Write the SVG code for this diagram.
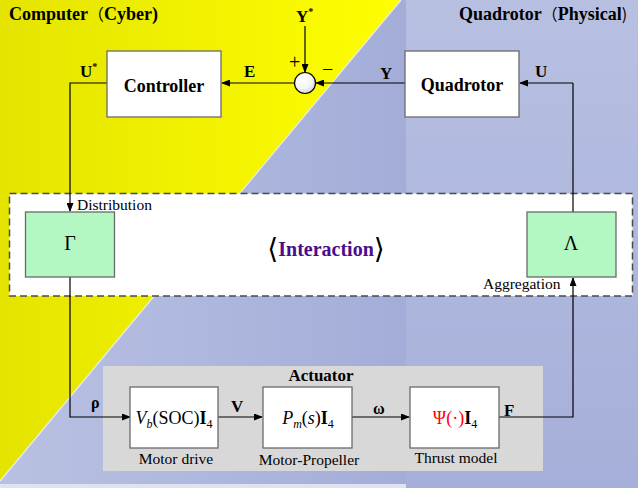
<svg xmlns="http://www.w3.org/2000/svg" width="638" height="488" viewBox="0 0 638 488" font-family="'Liberation Serif', 'Times New Roman', serif">
<defs>
  <linearGradient id="gBlueL" x1="0" y1="0" x2="1" y2="0">
    <stop offset="0" stop-color="#b9c1e2"/>
    <stop offset="1" stop-color="#a3add8"/>
  </linearGradient>
  <linearGradient id="gBlueR" x1="0" y1="0" x2="0" y2="1">
    <stop offset="0" stop-color="#b8c0e2"/>
    <stop offset="1" stop-color="#a5afd9"/>
  </linearGradient>
  <linearGradient id="gYel" x1="0" y1="0" x2="1" y2="0">
    <stop offset="0" stop-color="#e4e400"/>
    <stop offset="1" stop-color="#ffff00"/>
  </linearGradient>
  <radialGradient id="gSum" cx="0.4" cy="0.35" r="0.7">
    <stop offset="0" stop-color="#ffffff"/>
    <stop offset="0.6" stop-color="#f4f4f4"/>
    <stop offset="1" stop-color="#cfcfcf"/>
  </radialGradient>
  <marker id="arr" markerWidth="9" markerHeight="7" refX="8" refY="3.5" orient="auto" markerUnits="userSpaceOnUse">
    <path d="M0,0 L9,3.5 L0,7 z" fill="#000"/>
  </marker>
  <style>
    text{font-family:"Liberation Serif","Times New Roman",serif;fill:#000}
    .b{font-weight:bold}
    .blk{fill:#fff;stroke:#6a6a6a;stroke-width:1.3}
    .grn{fill:#b3f7c3;stroke:#6a6a6a;stroke-width:1.3}
    .ln{fill:none;stroke:#000;stroke-width:1.2}
    .lbl{font-size:15.5px}
    .cjk{font-family:"Noto Sans CJK SC",sans-serif;font-weight:normal}
    .br{font-family:"DejaVu Serif",serif;font-weight:normal}
  </style>
</defs>

<!-- background -->
<rect x="0" y="0" width="406" height="488" fill="url(#gBlueL)"/>
<rect x="406" y="0" width="232" height="488" fill="url(#gBlueR)"/>
<rect x="0" y="484" width="406" height="4" fill="#dfe3f1"/>
<polygon points="0,0 401,0 0,481" fill="url(#gYel)"/>
<line x1="401" y1="0" x2="0" y2="481" stroke="#e8ecf6" stroke-width="1.2"/>

<!-- titles -->
<text class="b" x="9" y="20" font-size="18">Computer<tspan class="cjk" font-size="16">（</tspan>Cyber)</text>
<text class="b" x="459" y="20" font-size="18">Quadrotor<tspan class="cjk" font-size="16">（</tspan>Physical<tspan class="cjk" font-size="16">)</tspan></text>

<!-- interaction region -->
<g id="interaction">
  <rect x="9.5" y="193.5" width="623" height="102.5" fill="#fff" stroke="#4a4a4a" stroke-width="1.5" stroke-dasharray="7 4"/>
  <text x="326" y="256" text-anchor="middle" font-size="20"><tspan class="br" font-size="28" dy="2">⟨</tspan><tspan class="b" fill="#4b0d8c" dy="-2">Interaction</tspan><tspan class="br" font-size="28" dy="2">⟩</tspan></text>
</g>

<!-- actuator region -->
<g id="actuator">
  <rect x="103" y="366" width="440" height="105" fill="#d8d8d8"/>
  <text class="b" x="321" y="381" font-size="17" text-anchor="middle">Actuator</text>
</g>

<!-- connectors -->
<g id="connectors">
  <line class="ln" x1="305" y1="26" x2="305" y2="72" marker-end="url(#arr)"/>
  <line class="ln" x1="405" y1="83" x2="316" y2="83" marker-end="url(#arr)"/>
  <line class="ln" x1="294.5" y1="83" x2="222" y2="83" marker-end="url(#arr)"/>
  <polyline class="ln" points="107,83 70,83 70,211" marker-end="url(#arr)"/>
  <line class="ln" x1="573" y1="212" x2="573" y2="83"/>
  <line class="ln" x1="573" y1="83" x2="520" y2="83" marker-end="url(#arr)"/>
  <polyline class="ln" points="70,277 70,417 130,417" marker-end="url(#arr)"/>
  <line class="ln" x1="218" y1="417" x2="262" y2="417" marker-end="url(#arr)"/>
  <line class="ln" x1="352" y1="417" x2="409" y2="417" marker-end="url(#arr)"/>
  <polyline class="ln" points="499,417 573,417 573,278" marker-end="url(#arr)"/>
  <text class="b" x="80" y="77" font-size="17">U<tspan font-size="10" dy="-7">*</tspan></text>
  <text class="b" x="244" y="77" font-size="17">E</text>
  <text class="b" x="380" y="79" font-size="17">Y</text>
  <text class="b" x="535" y="77" font-size="17">U</text>
  <text class="b" x="296" y="22" font-size="17">Y<tspan font-size="10" dy="-7">*</tspan></text>
  <text x="289" y="69" font-size="20">+</text>
  <text x="322" y="76" font-size="20">−</text>
  <text class="lbl" x="77" y="210">Distribution</text>
  <text class="lbl" x="483" y="289">Aggregation</text>
  <text class="b" x="91" y="408" font-size="16">ρ</text>
  <text class="b" x="231" y="412" font-size="17">V</text>
  <text class="b" x="373" y="414" font-size="16">ω</text>
  <text class="b" x="504" y="416" font-size="17">F</text>
</g>

<!-- nodes -->
<g id="sum">
  <circle cx="305" cy="83" r="10.5" fill="url(#gSum)" stroke="#000" stroke-width="1.2"/>
</g>
<g id="controller">
  <rect class="blk" x="107" y="51" width="114" height="66"/>
  <text class="b" x="164" y="92" font-size="18" text-anchor="middle">Controller</text>
</g>
<g id="quadrotor">
  <rect class="blk" x="405" y="51" width="114" height="66"/>
  <text class="b" x="462" y="91" font-size="18" text-anchor="middle">Quadrotor</text>
</g>
<g id="gamma">
  <rect class="grn" x="25.5" y="212" width="89" height="65"/>
  <text x="70" y="250" font-size="20" text-anchor="middle">Γ</text>
</g>
<g id="lambda">
  <rect class="grn" x="527" y="212" width="89" height="65"/>
  <text x="571" y="250" font-size="20" text-anchor="middle">Λ</text>
</g>
<g id="motor-drive">
  <rect class="blk" x="130" y="387" width="88" height="61"/>
  <text x="174" y="424" font-size="18" text-anchor="middle"><tspan font-style="italic">V</tspan><tspan font-style="italic" font-size="12" dy="4">b</tspan><tspan dy="-4">(SOC)</tspan><tspan font-weight="bold">I</tspan><tspan font-size="12" dy="4">4</tspan></text>
  <text class="lbl" x="176" y="464" text-anchor="middle">Motor drive</text>
</g>
<g id="motor-propeller">
  <rect class="blk" x="263" y="387" width="89" height="61"/>
  <text x="308" y="424" font-size="18" text-anchor="middle"><tspan font-style="italic">P</tspan><tspan font-style="italic" font-size="12" dy="4">m</tspan><tspan dy="-4">(</tspan><tspan font-style="italic">s</tspan><tspan>)</tspan><tspan font-weight="bold">I</tspan><tspan font-size="12" dy="4">4</tspan></text>
  <text class="lbl" x="309" y="465" text-anchor="middle">Motor-Propeller</text>
</g>
<g id="thrust-model">
  <rect class="blk" x="410" y="387" width="89" height="61"/>
  <text x="455" y="424" font-size="18" text-anchor="middle"><tspan fill="#ff0000">Ψ(·)</tspan><tspan font-weight="bold">I</tspan><tspan font-size="12" dy="4">4</tspan></text>
  <text class="lbl" x="456" y="463" text-anchor="middle">Thrust model</text>
</g>
</svg>
